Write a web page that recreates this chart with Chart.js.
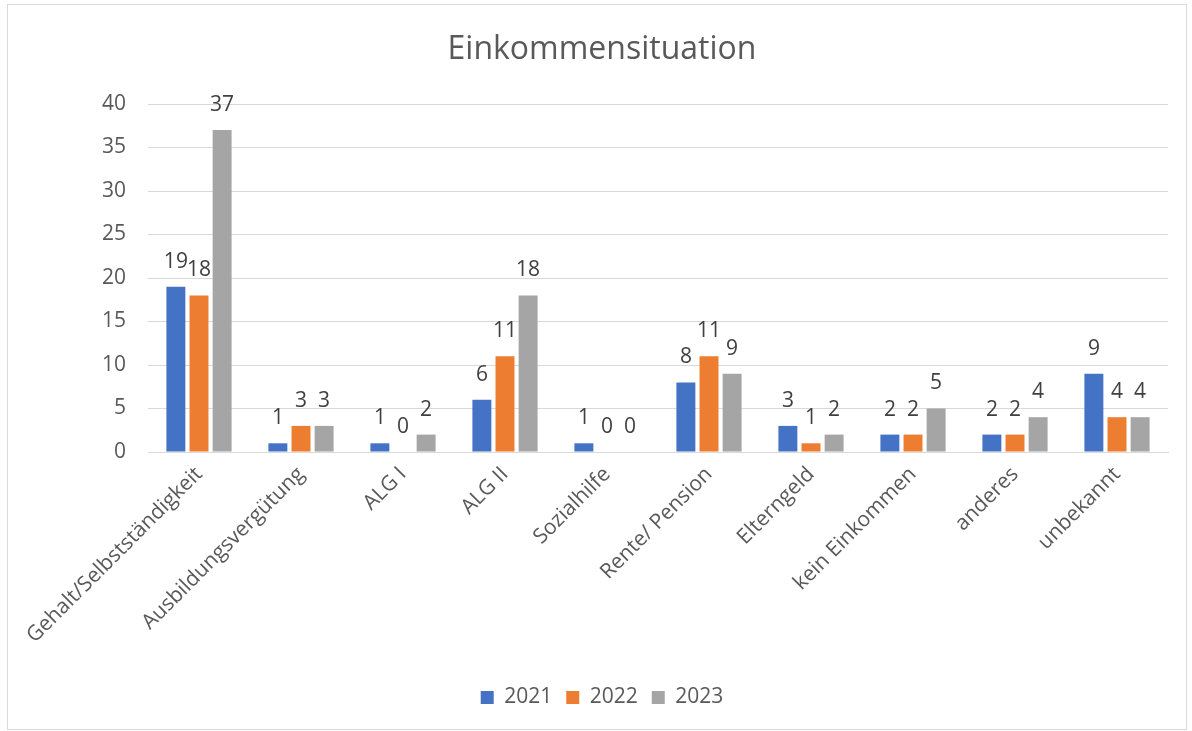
<!DOCTYPE html>
<html>
<head>
<meta charset="utf-8">
<script src="https://cdn.jsdelivr.net/npm/chart.js@4"></script>
<style>
html,body{margin:0;padding:0;background:#fff;}
#wrap{position:absolute;left:0;top:0;width:1192px;height:731px;}
</style>
</head>
<body>
<div id="wrap"><canvas id="c" width="1192" height="731"></canvas></div>
<script>
const categories = ["Gehalt/Selbstständigkeit","Ausbildungsvergütung","ALG I","ALG II","Sozialhilfe","Rente/ Pension","Elterngeld","kein Einkommen","anderes","unbekannt"];
const seriesNames = ["2021","2022","2023"];
const values2021 = [19,1,1,6,1,8,3,2,2,9];
const values2022 = [18,3,0,11,0,11,1,2,2,4];
const values2023 = [37,3,2,18,0,9,2,5,4,4];
const yTicks = [0,5,10,15,20,25,30,35,40];
const colors = ["#4472C4","#ED7D31","#A5A5A5"];

const FONT = "'Open Sans', 'Noto Sans', sans-serif";

const labelPlugin = {
  id: 'valueLabels',
  afterDatasetsDraw(chart) {
    const ctx = chart.ctx;
    ctx.save();
    ctx.font = "21px " + FONT;
    ctx.fillStyle = "#404040";
    ctx.textAlign = "center";
    ctx.textBaseline = "middle";
    chart.data.datasets.forEach((ds, i) => {
      const meta = chart.getDatasetMeta(i);
      meta.data.forEach((bar, j) => {
        ctx.fillText(String(ds.data[j]), bar.x, bar.y - 25);
      });
    });
    ctx.restore();
  }
};

const borderPlugin = {
  id: 'frame',
  beforeDraw(chart) {
    const ctx = chart.ctx;
    ctx.save();
    ctx.fillStyle = "#fff";
    ctx.fillRect(0,0,chart.width,chart.height);
    ctx.strokeStyle = "#d9d9d9";
    ctx.lineWidth = 1;
    ctx.strokeRect(7.5, 4.5, 1179, 725);
    ctx.restore();
  }
};

new Chart(document.getElementById('c'), {
  type: 'bar',
  data: {
    labels: categories,
    datasets: [
      {label: seriesNames[0], data: values2021, backgroundColor: colors[0]},
      {label: seriesNames[1], data: values2022, backgroundColor: colors[1]},
      {label: seriesNames[2], data: values2023, backgroundColor: colors[2]}
    ]
  },
  options: {
    responsive: false,
    animation: false,
    devicePixelRatio: 1,
    layout: {padding: {top: 0, left: 36, right: 24, bottom: 13}},
    datasets: {bar: {categoryPercentage: 0.68, barPercentage: 0.82}},
    plugins: {
      title: {
        display: true,
        text: "Einkommensituation",
        color: "#595959",
        font: {family: FONT, size: 32, weight: 'normal'},
        padding: {top: 31, bottom: 34.6}
      },
      legend: {
        position: 'bottom',
        labels: {
          color: "#595959",
          font: {family: FONT, size: 21},
          boxWidth: 13,
          boxHeight: 13,
          padding: 14
        }
      },
      tooltip: {enabled: false}
    },
    scales: {
      x: {
        grid: {display: false},
        border: {display: true, color: "#d9d9d9"},
        ticks: {
          color: "#595959",
          font: {family: FONT, size: 21},
          minRotation: 45,
          maxRotation: 45,
          padding: 2
        },
        afterFit(scale) { scale.height = 221; }
      },
      y: {
        min: 0,
        max: 40,
        grid: {color: "#d9d9d9", drawTicks: false},
        border: {display: false},
        afterBuildTicks(scale) { scale.ticks = yTicks.map(v => ({value: v})); },
        ticks: {
          color: "#595959",
          font: {family: FONT, size: 21},
          padding: 22
        },
        afterFit(scale) { scale.width = 112; }
      }
    }
  },
  plugins: [borderPlugin, labelPlugin]
});
</script>
</body>
</html>
